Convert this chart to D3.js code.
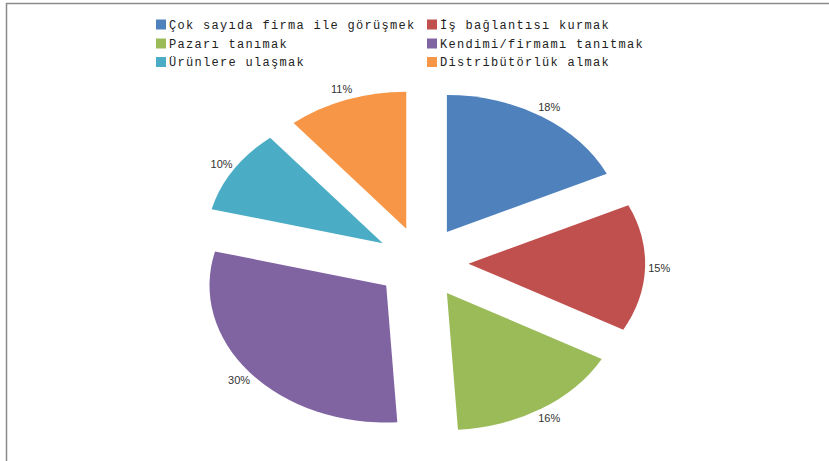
<!DOCTYPE html>
<html>
<head>
<meta charset="utf-8">
<script src="https://cdn.jsdelivr.net/npm/d3@7"></script>
<style>
  body { margin: 0; background: #fff; }
  .legend text { font-family: "Liberation Mono", monospace; font-size: 12px; letter-spacing: 1.3px; fill: #222; }
  .lbl { font-family: "Liberation Sans", Arial, sans-serif; font-size: 11px; fill: #333; }
</style>
</head>
<body>
<div id="chart"></div>
<script>
// data
var categories = ["Çok sayıda firma ile görüşmek", "İş bağlantısı kurmak", "Pazarı tanımak",
                  "Kendimi/firmamı tanıtmak", "Ürünlere ulaşmak", "Distribütörlük almak"];
var values = [18, 15, 16, 30, 10, 11];
var colors = ["#4F81BD", "#C0504D", "#9BBB59", "#8064A2", "#4BACC6", "#F79646"];

function pieChart(){
    var width = 829, height = 461;
    var cx = 422, cy = 262.5, radius = 137, sx = 1.29;  // picture is stretched sideways
    var explode = 36, labelR = 148;

    var svg = d3.select("#chart")
            .append("svg")
            .attr("width", width)
            .attr("height", height);

    // frame (only top and left edges show)
    svg.append("line").attr("x1", 6).attr("y1", 3.5).attr("x2", width).attr("y2", 3.5)
        .attr("stroke", "#8a8a8a").attr("stroke-width", 1.5);
    svg.append("line").attr("x1", 6.5).attr("y1", 3).attr("x2", 6.5).attr("y2", height)
        .attr("stroke", "#8a8a8a").attr("stroke-width", 1.5);

    var pie = d3.pie().sort(null).value(function(d) { return d; });
    var arc = d3.arc().innerRadius(0).outerRadius(radius);
    var arcs = pie(values);

    function dir(d) {
        var a = (d.startAngle + d.endAngle) / 2;
        return [Math.sin(a), -Math.cos(a)];
    }

    var g = svg.append("g")
        .attr("transform", "translate(" + cx + "," + cy + ") scale(" + sx + ",1)");

    g.selectAll(".slice")
      .data(arcs)
      .enter().append("path")
        .attr("class", "slice")
        .attr("transform", function(d) {
            var v = dir(d);
            return "translate(" + (v[0] * explode) + "," + (v[1] * explode) + ")";
        })
        .attr("d", arc)
        .attr("fill", function(d, i) { return colors[i]; });

    svg.selectAll(".lbl")
      .data(arcs)
      .enter().append("text")
        .attr("class", "lbl")
        .attr("text-anchor", "middle")
        .attr("dy", "0.35em")
        .attr("x", function(d) { var v = dir(d); return cx + sx * v[0] * (explode + labelR); })
        .attr("y", function(d) { var v = dir(d); return cy + v[1] * (explode + labelR); })
        .text(function(d) { return d.value + "%"; });

    // legend, two columns
    var legend = svg.append("g").attr("class", "legend");
    var colX = [156, 427], rowY = [24.5, 43.5, 62];
    var items = legend.selectAll("g")
      .data(categories)
      .enter().append("g")
        .attr("transform", function(d, i) {
            return "translate(" + colX[i % 2] + "," + rowY[Math.floor(i / 2)] + ")";
        });
    items.append("rect")
        .attr("x", 0).attr("y", -5).attr("width", 10).attr("height", 10)
        .attr("fill", function(d, i) { return colors[i]; });
    items.append("text")
        .attr("x", 13).attr("dy", "0.35em")
        .text(function(d) { return d; });
}

pieChart();
</script>
</body>
</html>
